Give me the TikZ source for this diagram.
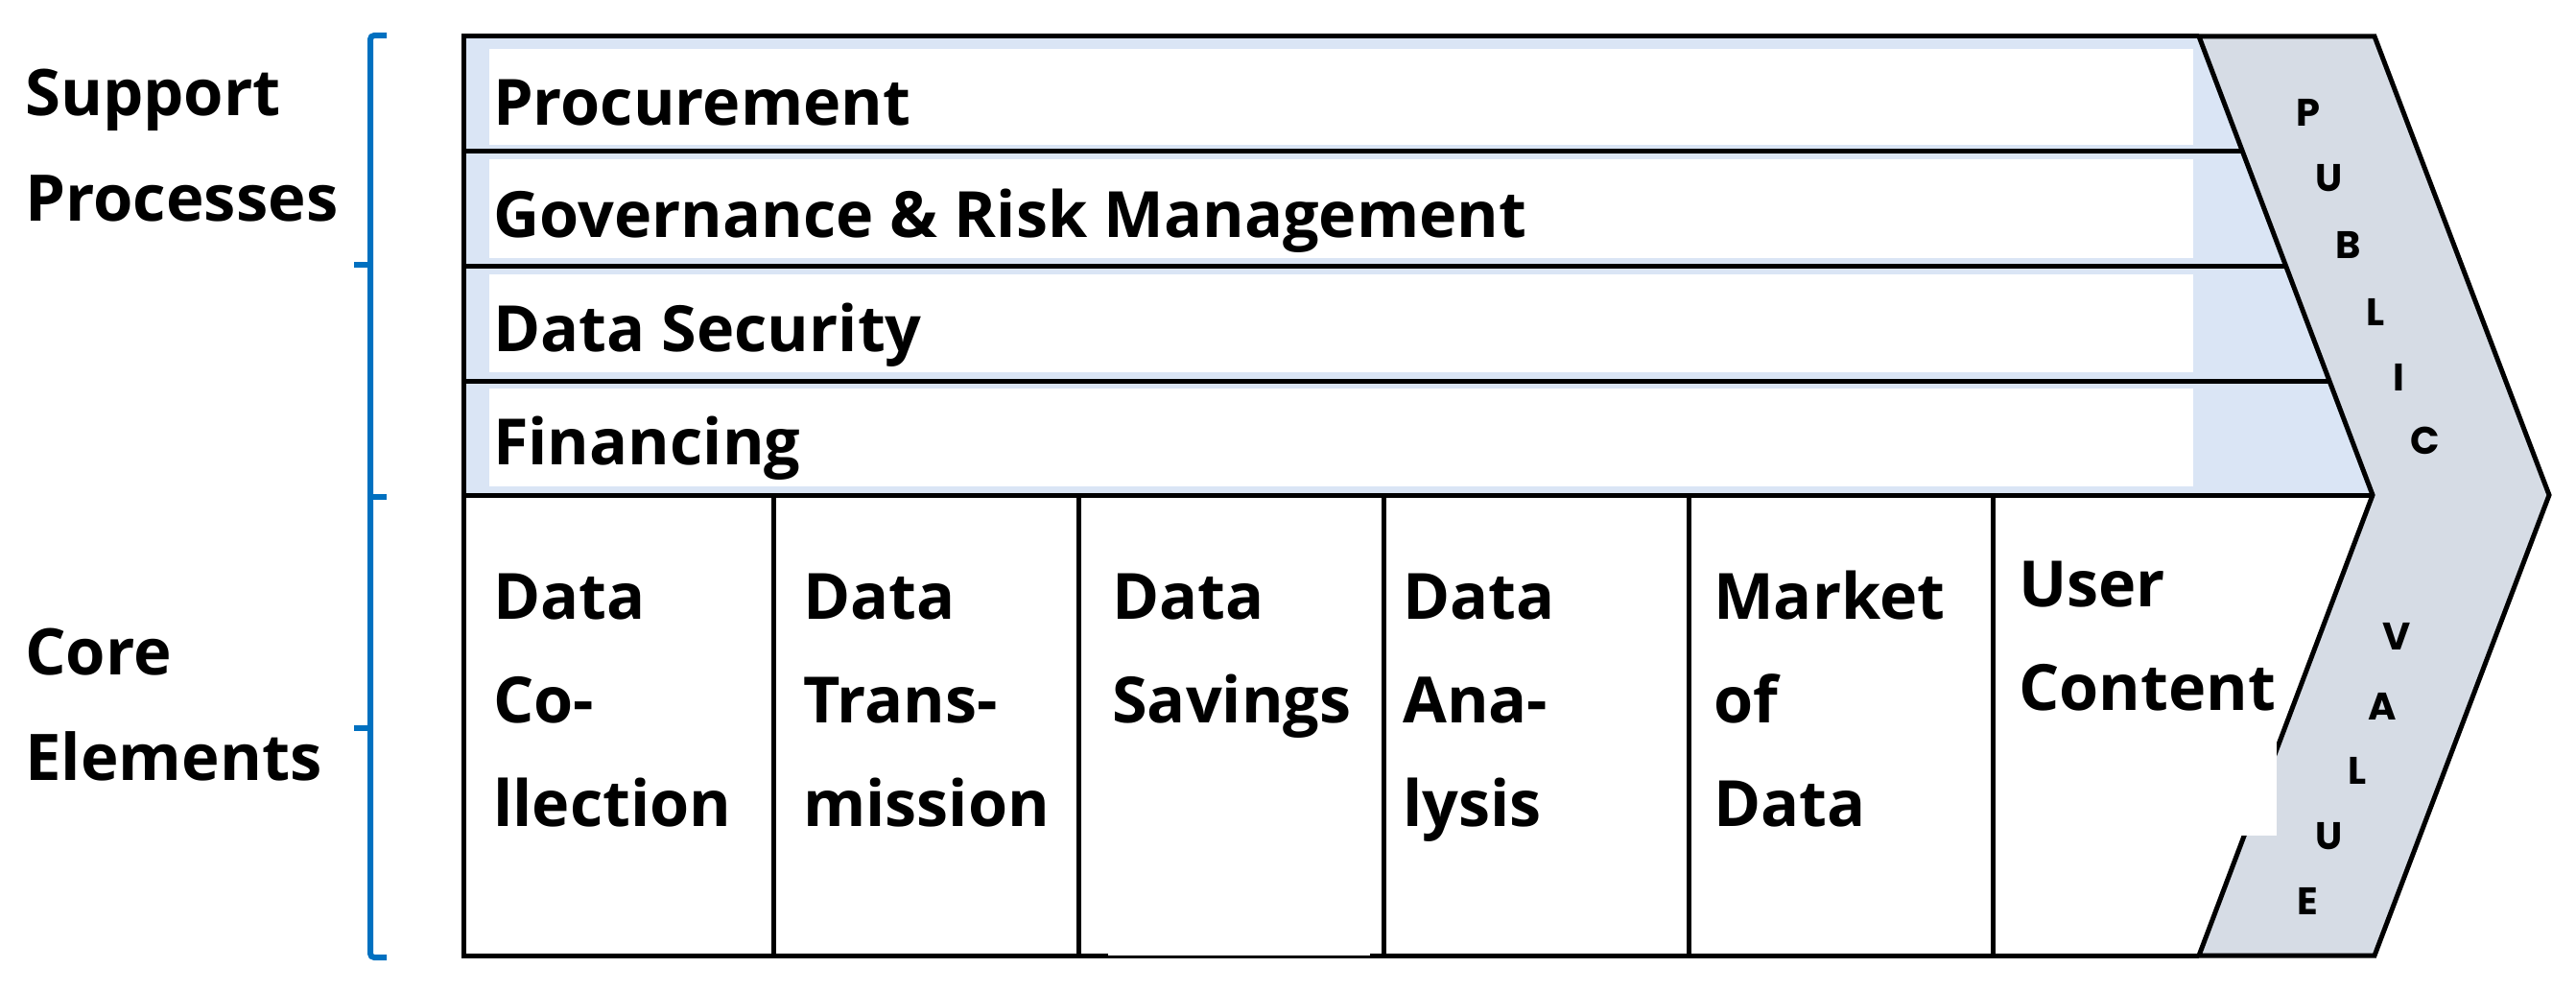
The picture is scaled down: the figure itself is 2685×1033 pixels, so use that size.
\documentclass[tikz,border=0pt]{standalone}
\usepackage{fontspec}
\setmainfont{Open Sans}
\newfontfamily\chevfont{Poppins}
\definecolor{rowblue}{HTML}{DAE5F5}
\definecolor{chevgray}{HTML}{D6DCE5}
\definecolor{brblue}{HTML}{0070C0}
\begin{document}
\begin{tikzpicture}[x=1pt,y=-1pt,
  lbl/.style={font=\fontsize{66.5}{108}\selectfont\bfseries, anchor=base west, inner sep=0pt, align=left},
  sidelbl/.style={font=\fontsize{67}{110}\selectfont\bfseries, anchor=base west, inner sep=0pt, align=left},
  chevletter/.style={font=\chevfont\fontsize{40}{40}\selectfont\bfseries, inner sep=0pt},
  rulek/.style={line width=5pt, draw=black},
  bracketline/.style={draw=brblue, line width=6pt},
  ]
\useasboundingbox (0,0) rectangle (2685,1033);
\fill[white] (0,0) rectangle (2685,1033);

% support band
\fill[rowblue] (483,38) -- (2292,38) -- (2473,516) -- (483,516) -- cycle;
\foreach \t/\b in {51/151, 166/269, 286/388, 405/507} {
  \fill[white] (510,\t) rectangle (2286,\b);
}
% horizontal division lines
\draw[rulek] (483,157) -- (2340,157);
\draw[rulek] (483,277) -- (2385,277);
\draw[rulek] (483,397) -- (2430,397);
\draw[rulek] (483,516) -- (2473,516);
% column lines
\foreach \x in {806,1124,1442,1760,2077} {
  \draw[rulek] (\x,516) -- (\x,996);
}
% outer border
\draw[rulek] (2292,38) -- (483,38) -- (483,996) -- (2292,996);

% chevron
\draw[rulek, fill=chevgray, line join=miter]
  (2292,38) -- (2475,38) -- (2657,516) -- (2475,996) -- (2292,996) -- (2473,516) -- cycle;

% white patches present in the picture
\fill[white] (2090,760) rectangle (2373,871);
\fill[white] (1155,990) rectangle (1428,995.8);

% support rows
\node[lbl] (proc) at (514,130) {Procurement};
\node[lbl] (gov)  at (514,247) {Governance \& Risk Management};
\node[lbl] (sec)  at (514,366) {Data Security};
\node[lbl] (fin)  at (514,484) {Financing};

% core elements (anchor = baseline of last line)
\node[lbl] (c1) at (514,861)  {Data\\Co-\\llection};
\node[lbl] (c2) at (837,861)  {Data\\Trans-\\mission};
\node[lbl] (c3) at (1159,753) {Data\\Savings};
\node[lbl] (c4) at (1462,861) {Data\\Ana-\\lysis};
\node[lbl] (c5) at (1786,861) {Market\\of\\Data};
\node[lbl] (c6) at (2104,740) {User\\Content};

% side labels
\node[sidelbl] (sup)  at (26,230) {Support\\Processes};
\node[sidelbl] (core) at (26,813) {Core\\Elements};

% bracket
\draw[bracketline, rounded corners=4pt] (403,37) -- (386,37) -- (386,998) -- (403,998);
\draw[bracketline] (386,518) -- (403,518);
\draw[bracketline] (386,276) -- (369,276);
\draw[bracketline] (386,759) -- (369,759);

% chevron letters
\node[chevletter] (p1) at (2406,117) {P};
\node[chevletter] (p2) at (2428,186) {U};
\node[chevletter] (p3) at (2448,255) {B};
\node[chevletter] (p4) at (2476,325) {L};
\node[chevletter] (p5) at (2500,393) {I};
\node[chevletter] (p6) at (2528,459) {C};
\node[chevletter] (v1) at (2498,663) {V};
\node[chevletter] (v2) at (2483,736) {A};
\node[chevletter] (v3) at (2457,803) {L};
\node[chevletter] (v4) at (2428,872) {U};
\node[chevletter] (v5) at (2405,939) {E};
\end{tikzpicture}
\end{document}
